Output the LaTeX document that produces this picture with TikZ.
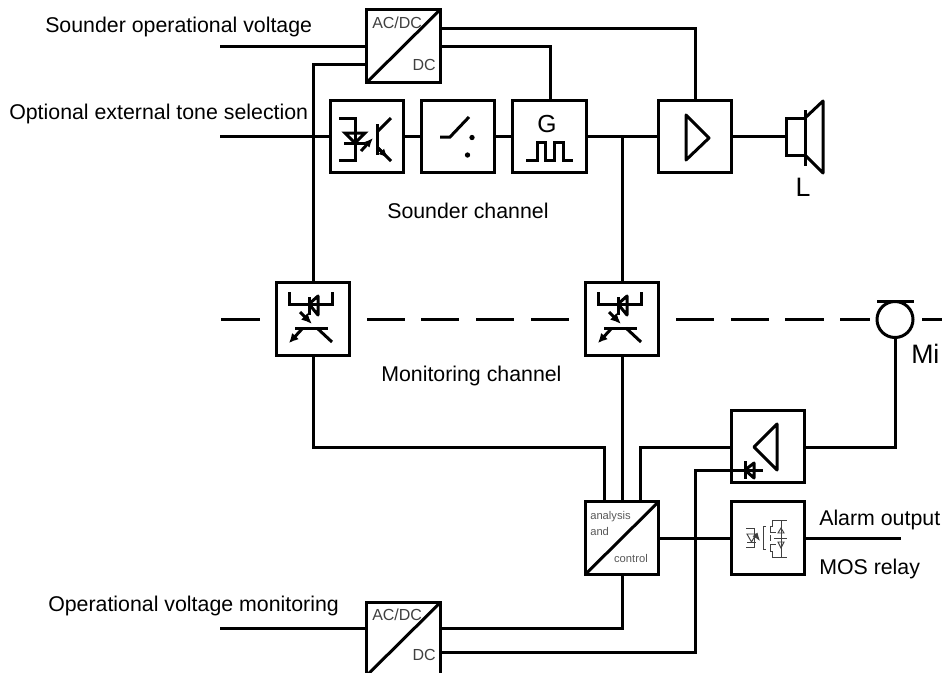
\documentclass[tikz,border=0pt]{standalone}
\usepackage{fontspec}
\setmainfont{Liberation Sans}
\usetikzlibrary{arrows.meta}
\begin{document}
\begin{tikzpicture}[x=0.75pt,y=-0.75pt,
  wire/.style={line width=2.25pt,line join=miter},
  blockbox/.style={draw,line width=2.25pt,minimum width=55pt,minimum height=54.5pt,inner sep=0pt,outer sep=0pt},
  sym/.style={line width=2.25pt,line cap=butt},
  lbl/.style={inner sep=0pt,font=\fontsize{16pt}{18pt}\selectfont},
  biglbl/.style={inner sep=0pt,font=\fontsize{20pt}{22pt}\selectfont},
  boxtxt/.style={inner sep=0pt,text=black!75,font=\fontsize{12pt}{14pt}\selectfont},
  smalltxt/.style={inner sep=0pt,text=black!65,font=\fontsize{8.4pt}{10pt}\selectfont}]
\useasboundingbox (0,0) rectangle (942,672);
\fill[white] (0,0) rectangle (942,672);
% blocks
\node[blockbox] (conv1) at (403.5,46) {};
\node[blockbox] (opto) at (367,136.5) {};
\node[blockbox] (sw) at (458,136.5) {};
\node[blockbox] (gen) at (549.5,136.5) {};
\node[blockbox] (amp) at (695,136.5) {};
\node[blockbox] (cpl1) at (313,319) {};
\node[blockbox] (cpl2) at (622,319) {};
\node[blockbox] (amp2) at (768,446.5) {};
\node[blockbox] (ctl) at (622,538) {};
\node[blockbox] (mos) at (768,538) {};
\node[blockbox] (conv2) at (403.5,639) {};
\node[draw,circle,line width=2.25pt,minimum size=27pt,inner sep=0pt,outer sep=0pt] (mic) at (895,319.5) {};
% free ends
\coordinate (in1) at (220,46);
\coordinate (in2) at (220,136.5);
\coordinate (in3) at (220,628.5);
\coordinate (alarm) at (901,538);
% diagonals
\foreach \b in {conv1,ctl,conv2}{\draw[line width=2.25pt] (\b.south west) -- (\b.north east);}
% connectors
\draw[wire] (in1) -- (conv1.west |- in1);
\draw[wire] (conv1.west |- 0,64) -- (313,64) -- (cpl1.north);
\draw[wire] (conv1.east |- 0,28) -- (695,28) -- (amp.north);
\draw[wire] (conv1.east |- 0,46) -- (550,46) -- (gen.north -| 550,0);
\draw[wire] (in2) -- (opto.west);
\draw[wire] (opto.east) -- (sw.west);
\draw[wire] (sw.east) -- (gen.west);
\draw[wire] (gen.east) -- (amp.west);
\draw[wire] (622,136.5) -- (cpl2.north);
\draw[wire] (cpl1.south) -- (313,447) -- (604,447) -- (604,502);
\draw[wire] (cpl2.south) -- (ctl.north);
\draw[wire] (amp2.west |- 0,447) -- (640,447) -- (640,502);
\draw[wire] (amp2.east |- 0,447) -- (895,447) -- (mic.south);
\draw[wire] (ctl.east) -- (mos.west);
\draw[wire] (mos.east) -- (alarm);
\draw[wire] (in3) -- (conv2.west |- in3);
\draw[wire] (conv2.east |- in3) -- (622,628.5) -- (ctl.south);
\draw[wire] (conv2.east |- 0,652) -- (695,652) -- (695,470) -- (763,470);
% dashes
\foreach \a/\b in {221/260,367/405,421/459,476/514,531/569,676/714,731/769,785/824,840/870,922/942}{
  \draw[wire] (\a,319) -- (\b,319);}
% mic bar
\draw[wire] (877,301) -- (914,301);
% speaker
\coordinate (spk) at (786,136.5);
\draw[wire] (amp.east) -- (spk);
\draw[wire] (805,118) -- (786,118) -- (786,155) -- (805,155);
\draw[wire] (805,110) -- (805,166);
\draw[wire,line join=round] (805,118) -- (823,101) -- (823,173) -- (805,155);
\node[biglbl] (ltext) at (803,187) {L};
% amp triangles
\draw[sym,line join=round] (686,115) -- (709,138) -- (686,160) -- cycle;
\draw[sym,line join=round] (777,424) -- (754,447) -- (777,470) -- cycle;
% diode on amp2 input
\draw[sym] (745,461) -- (745,479);
\draw[sym,line join=round] (754,463) -- (745,470) -- (754,478) -- cycle;
% opto symbol
\begin{scope}[sym]
\draw (339,118) -- (355,118) -- (355,160) -- (339,160);
\draw (344,143) -- (365,143);
\draw (345,133) -- (365,133) -- (355,143) -- cycle;
\draw (377,124) -- (377,155);
\draw (377,132) -- (391,118);
\draw (377,147) -- (391,161);
\draw[-{Latex[length=7pt,width=6pt]}] (361,151) -- (373,138);
\draw[-{Latex[length=7pt,width=6pt]}] (378,148) -- (388,158);
\end{scope}
% switch symbol
\draw[sym] (440,137) -- (450,137) -- (469,117);
\fill (472,137.5) circle (2pt);
\fill (467.5,155) circle (2pt);
% generator
\node[inner sep=0pt,font=\fontsize{18.5pt}{20pt}\selectfont] (gtext) at (547,124) {G};
\draw[sym] (526,160) -- (537,160) -- (537,142) -- (545,142) -- (545,160) -- (554,160) -- (554,142) -- (563,142) -- (563,160) -- (573,160);
% couplers
\foreach \c in {cpl1,cpl2}{
\begin{scope}[shift={(\c)},sym]
\draw (-24,-27) -- (-24,-15) -- (19,-15) -- (19,-27);
\draw (-4,-22) -- (-4,-4);
\draw[line join=round] (5,-23) -- (-4,-15) -- (5,-4) -- cycle;
\draw[-{Latex[length=8pt,width=7pt]}] (-13,-7) -- (-1,5);
\draw (-18,9) -- (15,9);
\draw (4,9) -- (19,23);
\draw[-{Latex[length=7pt,width=7pt]}] (-11,10) -- (-24,24);
\end{scope}}
% MOS relay symbol
\begin{scope}[shift={(mos)},line width=0.7pt,draw=black!75]
\draw (-22,-10) -- (-14,-10) -- (-14,9) -- (-22,9);
\draw (-21,4) -- (-12,4);
\draw (-21,-4) -- (-12,-4) -- (-16.5,4) -- cycle;
\draw[->,>=Latex] (-11,-1) -- (-8,3);
\draw (-2,-12) -- (-5,-12) -- (-5,11) -- (-2,11);
\draw (2,-12) -- (2,-6) (2,-3) -- (2,3) (2,6) -- (2,13);
\draw (4,-18) -- (19,-18) (4,-18) -- (4,-12) -- (2,-12);
\draw (4,19) -- (19,19) (4,19) -- (4,13) -- (2,13);
\draw (2,-6) -- (8,-6) (2,6) -- (8,6);
\draw (13,-18) -- (13,19);
\draw (10,-5) -- (16,-5) -- (13,-10) -- cycle;
\draw (10,4) -- (16,4) -- (13,10) -- cycle;
\draw (6,0) -- (19,0);
\end{scope}
% texts
\node[boxtxt,anchor=west] (t1) at (372,23) {AC/DC};
\node[boxtxt,anchor=east] (t2) at (436,65) {DC};
\node[boxtxt,anchor=west] (t3) at (372,615) {AC/DC};
\node[boxtxt,anchor=east] (t4) at (436,655) {DC};
\node[smalltxt,anchor=west] (t5) at (590,517) {analysis};
\node[smalltxt,anchor=west] (t6) at (590,531) {and};
\node[smalltxt,anchor=east] (t7) at (648,558) {control};
\node[lbl,anchor=west] (t8) at (45,27) {Sounder operational voltage};
\node[lbl,anchor=west] (t9) at (9,114) {Optional external tone selection};
\node[lbl,anchor=west] (t10) at (387,211) {Sounder channel};
\node[lbl,anchor=west] (t11) at (381,376) {Monitoring channel};
\node[lbl,anchor=west] (t12) at (48,606) {Operational voltage monitoring};
\node[lbl,anchor=west] (t13) at (819,520) {Alarm output};
\node[lbl,anchor=west] (t14) at (819,569) {MOS relay};
\node[biglbl,anchor=west] (t15) at (911,354) {Mi};
\end{tikzpicture}
\end{document}
